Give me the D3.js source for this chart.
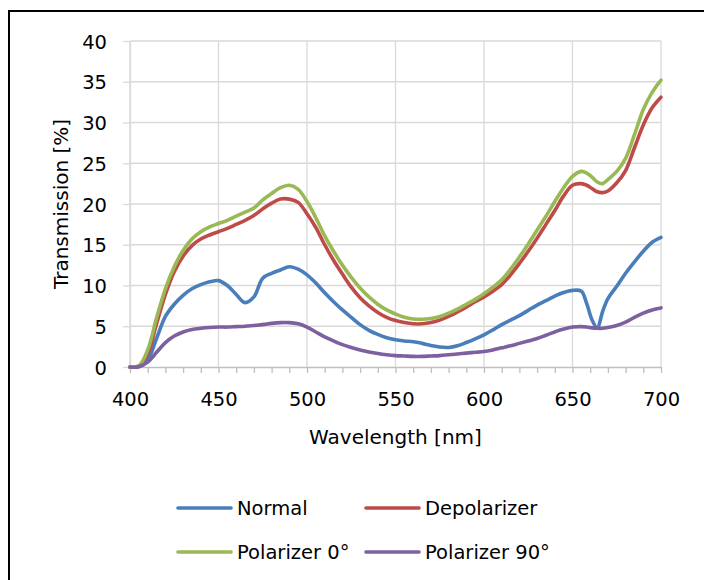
<!DOCTYPE html>
<html>
<head>
<meta charset="utf-8">
<script src="https://cdn.jsdelivr.net/npm/d3@7"></script>
<style>
  html, body { margin: 0; padding: 0; background: #fff; }
  svg { display: block; }
  text { font-family: "DejaVu Sans", sans-serif; fill: #000; }
</style>
</head>
<body>
<svg id="chart" width="704" height="580"></svg>
<script>
// Wavelength samples [nm]; finer steps around the 664 nm notch
const wavelengths = [400,405,410,415,420,425,430,435,440,445,450,455,460,465,470,475,480,485,490,495,
  500,505,510,515,520,525,530,535,540,545,550,555,560,565,570,575,580,585,590,595,
  600,605,610,615,620,625,630,635,640,645,650,655,658,661,664,667,670,675,680,685,690,695,700];

// Transmission [%] per configuration
const normal = [0,0.05,0.9,3.5,6.2,7.7,8.8,9.6,10.1,10.45,10.6,10.0,8.9,7.9,8.6,10.9,11.5,11.9,12.3,12.0,
  11.3,10.3,9.1,8.0,7.0,6.1,5.2,4.5,4.0,3.6,3.35,3.2,3.1,2.9,2.65,2.45,2.4,2.6,3.0,3.45,
  3.95,4.55,5.2,5.75,6.3,6.95,7.6,8.15,8.7,9.15,9.4,9.3,7.8,5.8,4.8,6.8,8.4,9.9,11.5,12.9,14.2,15.3,15.9];

const depolarizer = [0,0.1,1.6,5.3,8.9,11.7,13.6,14.9,15.7,16.2,16.6,17.0,17.5,18.0,18.6,19.4,20.1,20.6,20.6,20.2,
  18.8,17.1,15.0,13.1,11.4,9.8,8.5,7.5,6.7,6.1,5.7,5.45,5.3,5.3,5.45,5.75,6.2,6.75,7.35,8.0,
  8.6,9.3,10.1,11.3,12.7,14.2,15.8,17.5,19.2,21.0,22.3,22.5,22.3,21.9,21.5,21.4,21.6,22.6,24.1,26.9,29.7,31.8,33.1];

const polarizer0 = [0,0.15,2.1,6.0,9.6,12.3,14.3,15.7,16.6,17.2,17.6,18.0,18.5,19.0,19.5,20.5,21.3,22.0,22.3,21.8,
  20.3,18.3,16.1,14.2,12.5,11.0,9.7,8.6,7.7,7.0,6.5,6.1,5.9,5.85,5.95,6.2,6.6,7.1,7.7,8.3,
  9.0,9.8,10.7,12.0,13.5,15.1,16.8,18.5,20.3,22.0,23.4,24.0,23.8,23.3,22.7,22.5,23.0,24.0,25.6,28.5,31.6,33.7,35.2];

const polarizer90 = [0,0.03,0.6,1.8,3.0,3.8,4.3,4.6,4.75,4.85,4.9,4.9,4.95,5.0,5.1,5.2,5.35,5.45,5.45,5.3,
  4.9,4.3,3.7,3.2,2.75,2.4,2.1,1.85,1.65,1.5,1.4,1.35,1.3,1.3,1.35,1.4,1.5,1.6,1.7,1.8,
  1.9,2.1,2.35,2.6,2.9,3.2,3.5,3.9,4.3,4.65,4.9,4.95,4.9,4.8,4.75,4.75,4.85,5.1,5.5,6.1,6.6,7.0,7.25];

const seriesNames = ["Normal", "Depolarizer", "Polarizer 0°", "Polarizer 90°"];
const seriesColors = ["#4a7ebb", "#be4b48", "#98b954", "#7d60a0"];
const seriesValues = [normal, depolarizer, polarizer0, polarizer90];

const xTicks = d3.range(400, 701, 10);
const xLabelTicks = d3.range(400, 701, 50);
const yTicks = d3.range(0, 41, 5);

const svg = d3.select("#chart");

// Outer frame (top and left edges)
svg.append("path")
  .attr("d", "M9,580 V11 H704")
  .attr("fill", "none")
  .attr("stroke", "#000")
  .attr("stroke-width", 2);

const x = d3.scaleLinear().domain([400, 700]).range([130, 661]);
const y = d3.scaleLinear().domain([0, 40]).range([367, 41]);

const grid = svg.append("g");
// Horizontal gridlines
grid.selectAll("line.h").data(yTicks.filter(d => d > 0)).join("line")
  .attr("x1", x(400)).attr("x2", x(700))
  .attr("y1", d => y(d)).attr("y2", d => y(d))
  .attr("stroke", "#d9d9d9").attr("stroke-width", 1.3);
// Vertical gridlines
grid.selectAll("line.v").data(xLabelTicks).join("line")
  .attr("x1", d => x(d)).attr("x2", d => x(d))
  .attr("y1", y(0)).attr("y2", y(40))
  .attr("stroke", "#d9d9d9").attr("stroke-width", 1.3);

// X axis
const xAxis = svg.append("g")
  .attr("transform", `translate(0,${y(0)})`)
  .call(d3.axisBottom(x).tickValues(xTicks).tickSize(6).tickSizeOuter(0)
    .tickFormat(d => d % 50 === 0 ? d : ""));
xAxis.select(".domain").attr("stroke", "#bfbfbf").attr("stroke-width", 1.3);
xAxis.selectAll(".tick line").attr("stroke", "#bfbfbf").attr("stroke-width", 1.3);
xAxis.selectAll(".tick text")
  .attr("y", 39).attr("dy", null)
  .style("font-family", "DejaVu Sans, sans-serif")
  .style("font-size", "19.5px").attr("fill", "#000");

// Y axis
const yAxis = svg.append("g")
  .attr("transform", `translate(${x(400)},0)`)
  .call(d3.axisLeft(y).tickValues(yTicks).tickSize(7).tickPadding(16).tickSizeOuter(0));
yAxis.select(".domain").attr("stroke", "#d9d9d9").attr("stroke-width", 1.3);
yAxis.selectAll(".tick line").attr("stroke", "#d9d9d9").attr("stroke-width", 1.3);
yAxis.selectAll(".tick text")
  .attr("dy", "0.36em")
  .style("font-family", "DejaVu Sans, sans-serif")
  .style("font-size", "19.5px").attr("fill", "#000");

// Axis titles
svg.append("text")
  .attr("x", (x(400) + x(700)) / 2).attr("y", 444)
  .attr("text-anchor", "middle")
  .style("font-size", "20px")
  .text("Wavelength [nm]");

svg.append("text")
  .attr("transform", `translate(68,${(y(0) + y(40)) / 2}) rotate(-90)`)
  .attr("text-anchor", "middle")
  .style("font-size", "20px")
  .text("Transmission [%]");

// Series lines
const line = d3.line()
  .x((d, i) => x(wavelengths[i]))
  .y(d => y(d))
  .curve(d3.curveCatmullRom.alpha(0.5));

svg.append("g").selectAll("path")
  .data(seriesValues)
  .join("path")
  .attr("d", d => line(d))
  .attr("fill", "none")
  .attr("stroke", (d, i) => seriesColors[i])
  .attr("stroke-width", 3.6)
  .attr("stroke-linejoin", "round")
  .attr("stroke-linecap", "round");

// Legend (2 x 2)
const legendPos = [[178, 508], [366, 508], [178, 552], [366, 552]];
const legend = svg.append("g").selectAll("g")
  .data(seriesNames)
  .join("g")
  .attr("transform", (d, i) => `translate(${legendPos[i][0]},${legendPos[i][1]})`);
legend.append("line")
  .attr("x1", 0).attr("x2", 53)
  .attr("stroke", (d, i) => seriesColors[i])
  .attr("stroke-width", 3.6)
  .attr("stroke-linecap", "round");
legend.append("text")
  .attr("x", 59).attr("y", 7)
  .style("font-size", "19.5px")
  .text(d => d);
</script>
</body>
</html>
